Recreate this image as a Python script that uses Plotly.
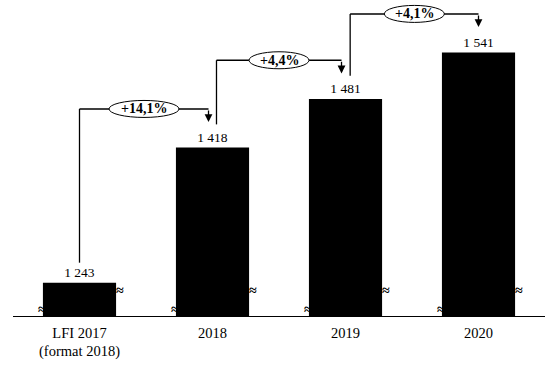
import plotly.graph_objects as go

categories = ["LFI 2017<br>(format 2018)", "2018", "2019", "2020"]
values = [1243, 1418, 1481, 1541]
value_labels = ["1 243", "1 418", "1 481", "1 541"]
growth_labels = ["+14,1%", "+4,4%", "+4,1%"]

y_min = 1200
y_max = 1609
FONT = "Liberation Serif"

x = list(range(len(categories)))

fig = go.Figure()
fig.add_trace(go.Bar(
    x=x, y=values, width=0.55,
    marker=dict(color="black", line=dict(width=0)),
    text=value_labels, textposition="outside",
    textfont=dict(family=FONT, size=13.5, color="black"),
    cliponaxis=False,
    hoverinfo="skip",
))

shapes = []
annotations = []

start_off = [0.0, 0.03, 0.035]
end_off = [-0.03, -0.03, 0.0]
ell_w = [35, 30, 30]
for i, g in enumerate(growth_labels):
    x0 = i + start_off[i]
    x1 = i + 1 + end_off[i]
    level = values[i + 1] + 50
    vstart = values[i] + (26 if i == 0 else 30)
    tip = values[i + 1] + 33
    shapes.append(dict(type="line", xref="x", yref="y", x0=x0, x1=x0, y0=vstart, y1=level,
                       line=dict(color="black", width=1.3)))
    shapes.append(dict(type="line", xref="x", yref="y", x0=x0, x1=x1, y0=level, y1=level,
                       line=dict(color="black", width=1.5)))
    annotations.append(dict(x=x1, y=tip, ax=x1, ay=level, xref="x", yref="y",
                            axref="x", ayref="y", text="", showarrow=True,
                            arrowhead=2, arrowsize=1.2, arrowwidth=1.3, arrowcolor="black"))
    xm = (x0 + x1) / 2
    shapes.append(dict(type="circle", xref="x", yref="y", xsizemode="pixel", ysizemode="pixel",
                       xanchor=xm, yanchor=level, x0=-ell_w[i], x1=ell_w[i], y0=-8.5, y1=8.5,
                       fillcolor="white", line=dict(color="black", width=1)))
    annotations.append(dict(x=xm, y=level, xref="x", yref="y", text="<b>" + g + "</b>",
                            showarrow=False, font=dict(family=FONT, size=14, color="black")))

for i in x:
    annotations.append(dict(x=i, y=y_min, xref="x", yref="y", text="<b>≈</b>", showarrow=False,
                            xshift=-38, yshift=7, font=dict(family=FONT, size=14, color="black")))
    annotations.append(dict(x=i, y=y_min, xref="x", yref="y", text="<b>≈</b>", showarrow=False,
                            xshift=40, yshift=26, font=dict(family=FONT, size=14, color="black")))

fig.update_layout(
    width=557, height=371,
    margin=dict(l=13, r=12, t=0, b=55),
    paper_bgcolor="white", plot_bgcolor="white",
    showlegend=False,
    shapes=shapes, annotations=annotations,
    font=dict(family=FONT, size=12, color="black"),
)
fig.update_xaxes(
    tickmode="array", tickvals=x, ticktext=categories,
    range=[-0.5, 3.5], showgrid=False, zeroline=False,
    showline=True, linecolor="black", linewidth=1.3,
    ticks="", ticklabelstandoff=3,
    tickfont=dict(family=FONT, size=14.5, color="black"),
)
fig.update_yaxes(
    range=[y_min, y_max], visible=False, showgrid=False, zeroline=False,
)

fig.write_html("out.html", config={"displayModeBar": False},
               post_script="document.body.style.margin='0';document.body.style.overflow='hidden';")
